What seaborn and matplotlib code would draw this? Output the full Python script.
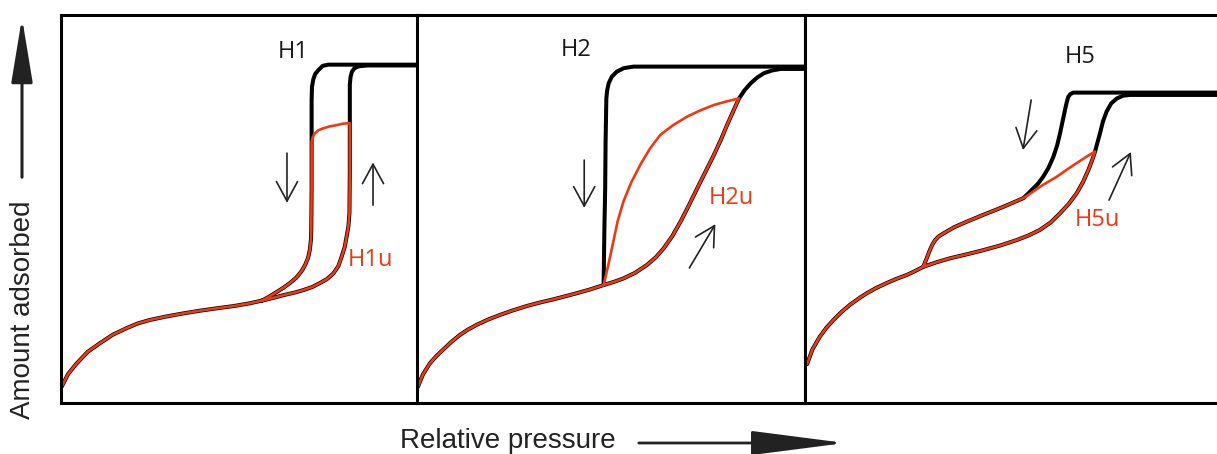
import numpy as np
import matplotlib.pyplot as plt
import seaborn as sns
from matplotlib.patches import FancyArrowPatch

# relative pressure (0-1) and amount adsorbed (0-100, arbitrary)

# --- H1 ---
h1_base_x = [0.002, 0.020, 0.044, 0.075, 0.109, 0.145, 0.184, 0.215, 0.249, 0.295,
             0.343, 0.390, 0.436, 0.485, 0.529, 0.563]
h1_base_y = [4.2, 7.5, 10.2, 13.2, 15.4, 17.6, 19.3, 20.5, 21.4, 22.3,
             23.1, 23.8, 24.4, 25.0, 25.7, 26.4]
h1_ads_x = [0.563, 0.595, 0.623, 0.652, 0.679, 0.704, 0.725, 0.746, 0.763, 0.777,
            0.786, 0.795, 0.800, 0.805, 0.808, 0.809, 0.809, 0.809, 0.811, 0.815,
            0.822, 0.835, 0.860, 1.0]
h1_ads_y = [26.4, 27.1, 27.8, 28.4, 29.1, 29.9, 30.9, 32.0, 33.4, 35.3,
            37.7, 40.3, 42.9, 45.5, 49.0, 60.0, 72.1, 82.0, 84.0, 85.4,
            86.3, 86.8, 87.0, 87.0]
h1_des_x = [1.0, 0.749, 0.733, 0.721, 0.712, 0.707, 0.703, 0.702, 0.702, 0.702,
            0.701, 0.700, 0.697, 0.692, 0.684, 0.674, 0.659, 0.641, 0.623, 0.604,
            0.583, 0.563]
h1_des_y = [87.2, 87.2, 86.9, 85.8, 84.8, 83.5, 81.5, 78.0, 67.3, 55.0,
            44.5, 42.0, 39.5, 37.4, 35.6, 34.0, 32.3, 30.9, 29.7, 28.6,
            27.4, 26.4]
h1_scan_x = [0.809, 0.790, 0.772, 0.753, 0.735, 0.721, 0.711, 0.705, 0.702]
h1_scan_y = [72.1, 72.0, 71.6, 71.3, 70.8, 70.3, 69.5, 68.5, 67.3]

# --- H2 ---
h2_base_x = [0.002, 0.015, 0.033, 0.050, 0.067, 0.088, 0.110, 0.131, 0.153, 0.183,
             0.214, 0.248, 0.283, 0.317, 0.351, 0.382, 0.412, 0.447, 0.481]
h2_base_y = [4.1, 7.3, 10.2, 12.1, 13.7, 15.7, 17.5, 18.9, 20.1, 21.5,
             22.7, 23.9, 25.0, 25.9, 26.7, 27.5, 28.3, 29.3, 30.4]
h2_ads_x = [0.481, 0.507, 0.532, 0.563, 0.593, 0.616, 0.636, 0.658, 0.679, 0.700,
            0.722, 0.744, 0.765, 0.783, 0.799, 0.815, 0.830, 0.845, 0.860, 0.877,
            0.894, 0.915, 0.937, 1.0]
h2_ads_y = [30.4, 31.2, 32.1, 33.6, 35.6, 37.6, 39.9, 43.0, 46.7, 50.8,
            55.3, 59.7, 63.9, 67.8, 71.6, 75.2, 78.5, 80.7, 82.4, 83.9,
            85.0, 85.7, 86.1, 86.1]
h2_des_x = [1.0, 0.558, 0.533, 0.515, 0.502, 0.494, 0.490, 0.488, 0.486, 0.485,
            0.483, 0.482, 0.481]
h2_des_y = [86.7, 86.7, 86.3, 85.4, 84.1, 82.4, 80.5, 78.5, 67.0, 55.3,
            45.0, 38.1, 30.4]
h2_scan_x = [0.830, 0.797, 0.765, 0.730, 0.696, 0.660, 0.627, 0.600, 0.575, 0.552,
             0.532, 0.517, 0.506, 0.494, 0.481]
h2_scan_y = [78.5, 77.7, 76.8, 75.4, 73.8, 71.6, 69.1, 65.5, 61.3, 56.8,
             51.9, 46.8, 41.6, 36.0, 30.4]

# --- H5 ---
h5_base_x = [0.005, 0.018, 0.036, 0.052, 0.069, 0.089, 0.109, 0.130, 0.150, 0.174,
             0.198, 0.222, 0.247, 0.267, 0.287]
h5_base_y = [10.0, 13.8, 17.1, 19.4, 21.4, 23.5, 25.3, 26.9, 28.3, 29.7,
             30.9, 32.0, 33.0, 34.0, 35.1]
h5_ads_x = [0.287, 0.320, 0.352, 0.392, 0.433, 0.474, 0.514, 0.543, 0.570, 0.596,
            0.619, 0.640, 0.659, 0.675, 0.688, 0.697, 0.704, 0.710, 0.716, 0.723,
            0.732, 0.743, 0.757, 0.772, 0.789, 1.0]
h5_ads_y = [35.1, 36.3, 37.3, 38.3, 39.4, 40.6, 42.0, 43.2, 44.6, 46.5,
            48.9, 51.3, 54.0, 57.0, 60.1, 62.6, 64.8, 67.2, 69.5, 72.5,
            75.1, 77.2, 78.5, 79.2, 79.4, 79.4]
h5_des_x = [1.0, 0.651, 0.644, 0.639, 0.635, 0.631, 0.625, 0.619, 0.612, 0.603,
            0.591, 0.578, 0.566, 0.554, 0.542, 0.530, 0.502, 0.473, 0.433, 0.392,
            0.362, 0.336, 0.324, 0.316, 0.309, 0.303, 0.295, 0.287]
h5_des_y = [80.0, 80.0, 79.6, 78.9, 77.4, 75.5, 72.5, 69.5, 66.4, 63.5,
            60.6, 58.3, 56.6, 55.3, 54.0, 52.8, 51.5, 50.2, 48.5, 46.7,
            45.3, 43.7, 42.9, 42.0, 40.8, 39.4, 37.2, 35.1]
h5_scan_x = [0.704, 0.682, 0.659, 0.635, 0.611, 0.590, 0.570, 0.550, 0.530]
h5_scan_y = [64.8, 63.4, 61.8, 60.1, 58.3, 57.0, 55.7, 54.2, 52.8]

panels = [
    ("H1", "H1u", h1_base_x, h1_base_y, h1_ads_x, h1_ads_y, h1_des_x, h1_des_y, h1_scan_x, h1_scan_y),
    ("H2", "H2u", h2_base_x, h2_base_y, h2_ads_x, h2_ads_y, h2_des_x, h2_des_y, h2_scan_x, h2_scan_y),
    ("H5", "H5u", h5_base_x, h5_base_y, h5_ads_x, h5_ads_y, h5_des_x, h5_des_y, h5_scan_x, h5_scan_y),
]

BLACK = "#000000"
RED = "#ee3a12"

sns.set_style("white")
plt.rcParams["font.family"] = ["Liberation Sans", "DejaVu Sans"]

fig = plt.figure(figsize=(12.17, 4.54), dpi=100)

# axes rectangles in figure fraction (left, bottom, width, height)
boxes = [
    (61 / 1217, 51 / 454, 357 / 1217, 388 / 454),
    (417 / 1217, 51 / 454, 388 / 1217, 388 / 454),
    (805 / 1217, 51 / 454, 412 / 1217, 388 / 454),
]

# label / arrow placement per panel, data coords
name_pos = [(0.650, 90.5), (0.409, 91.0), (0.667, 89.2)]
unl_pos = [(0.866, 36.9), (0.810, 52.8), (0.711, 47.2)]
down_arrows = [((0.633, 64.4), (0.633, 51.6)), ((0.431, 62.6), (0.431, 50.3)),
               ((0.549, 78.1), (0.529, 65.2))]
up_arrows = [((0.874, 51.0), (0.874, 62.0)), ((0.702, 34.8), (0.769, 46.1)),
             ((0.738, 52.3), (0.791, 64.7))]


def red_path(bx, by, axx, ayy, dx, dy, sx, sy):
    axx, ayy, dx, dy = map(np.asarray, (axx, ayy, dx, dy))
    keep_a = ayy <= sy[0]
    keep_d = dy < sy[-1]
    xs = np.concatenate([bx, axx[keep_a], sx[1:], dx[keep_d]])
    ys = np.concatenate([by, ayy[keep_a], sy[1:], dy[keep_d]])
    return xs, ys


for i, (name, uname, bx, by, ax_x, ax_y, dx, dy, sx, sy) in enumerate(panels):
    ax = fig.add_axes(boxes[i])
    line_kw = dict(ax=ax, sort=False, estimator=None, legend=False,
                   solid_capstyle="round", solid_joinstyle="round")
    sns.lineplot(x=bx, y=by, color=BLACK, lw=2.9, **line_kw)
    sns.lineplot(x=ax_x, y=ax_y, color=BLACK, lw=2.9, **line_kw)
    sns.lineplot(x=dx, y=dy, color=BLACK, lw=2.9, **line_kw)
    rx, ry = red_path(bx, by, ax_x, ax_y, dx, dy, sx, sy)
    sns.lineplot(x=rx, y=ry, color=RED, lw=1.9, **line_kw)

    ax.text(*name_pos[i], name, fontsize=17, color="#1a1a1a", family="Open Sans",
            ha="center", va="center")
    ax.text(*unl_pos[i], uname, fontsize=17, color=RED, family="Open Sans",
            ha="center", va="center")
    for tail, tip in (down_arrows[i], up_arrows[i]):
        ax.annotate("", xy=tip, xytext=tail,
                    arrowprops=dict(arrowstyle="->,head_length=0.7,head_width=0.38",
                                    mutation_scale=20, lw=1.2, color="#222222",
                                    shrinkA=0, shrinkB=0))

    ax.set_xlim(0, 1)
    ax.set_ylim(0, 100)
    ax.set_xticks([])
    ax.set_yticks([])
    ax.set_xlabel("")
    ax.set_ylabel("")
    for side, sp in ax.spines.items():
        sp.set_linewidth(2.2)
        sp.set_color(BLACK)
    if i == 2:
        ax.spines["right"].set_visible(False)

# axis captions with their long arrows
fig.text(23 / 1217, 1 - 310 / 454, "Amount adsorbed", rotation=90, fontsize=20,
         color="#222222", ha="center", va="center")
fig.text(508 / 1217, 1 - 448 / 454, "Relative pressure", fontsize=20,
         color="#222222", ha="center", va="baseline")

fig.add_artist(FancyArrowPatch((22 / 1217, 1 - 180 / 454), (22 / 1217, 1 - 15 / 454),
                               transform=fig.transFigure, mutation_scale=1,
                               arrowstyle="-|>,head_length=40,head_width=6.6",
                               lw=2.2, color="#222222"))
fig.add_artist(FancyArrowPatch((636 / 1217, 1 - 443 / 454), (848 / 1217, 1 - 443 / 454),
                               transform=fig.transFigure, mutation_scale=1,
                               arrowstyle="-|>,head_length=59,head_width=7.6",
                               lw=2.0, color="#222222"))

fig.savefig("out.png", dpi=100)
